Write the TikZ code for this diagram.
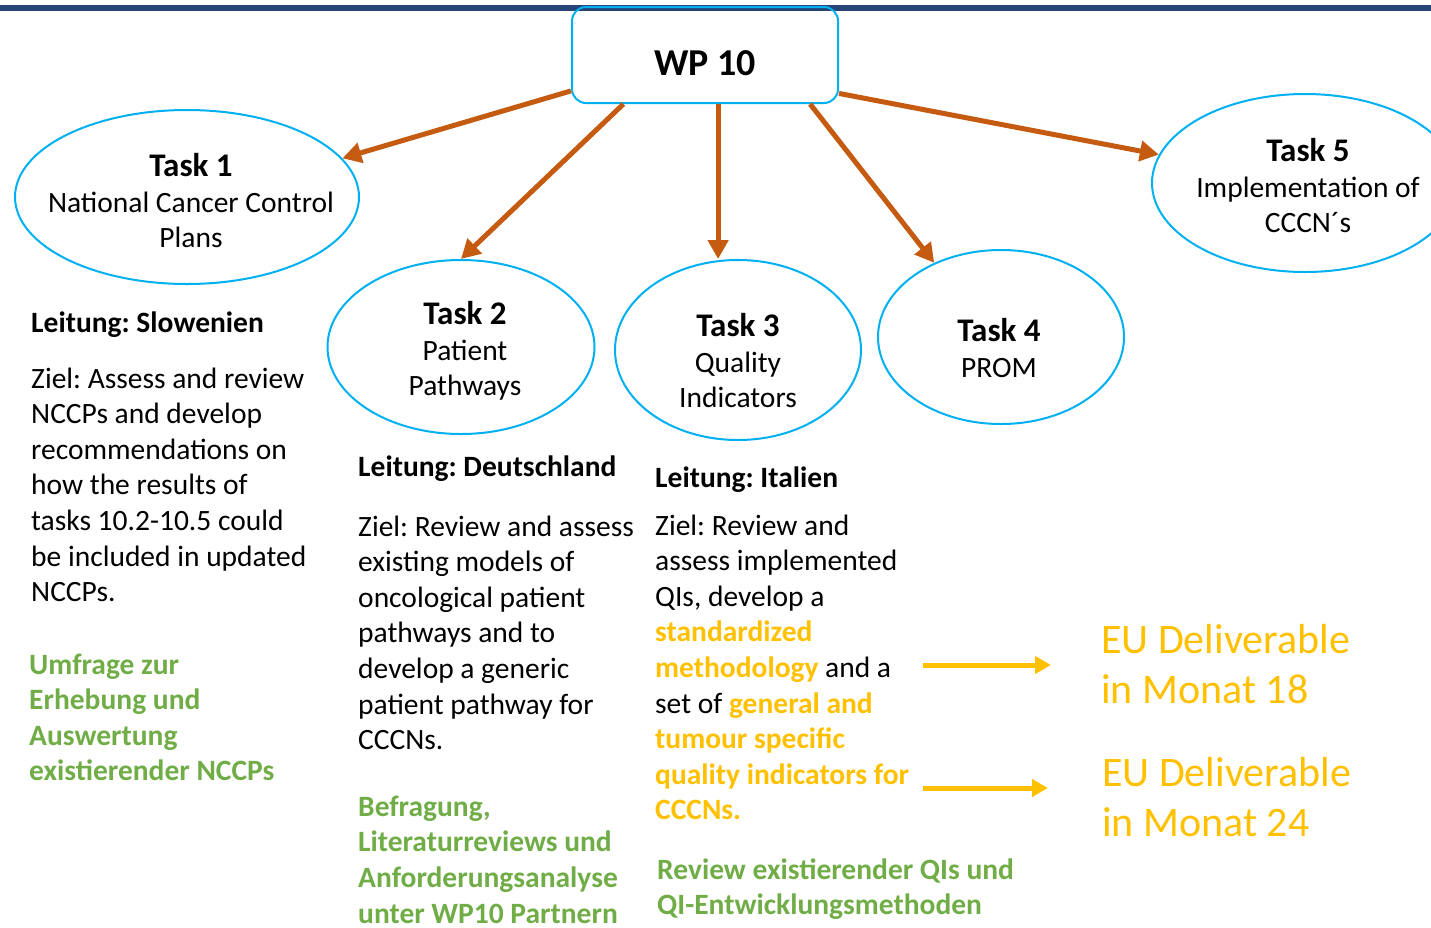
\documentclass[tikz,border=0pt]{standalone}
\usepackage{fontspec}
\setmainfont{Carlito}
\usetikzlibrary{shapes.geometric,arrows.meta,positioning}
\definecolor{wpcyan}{RGB}{0,176,240}
\definecolor{wporange}{RGB}{197,90,17}
\definecolor{wpyellow}{RGB}{255,192,0}
\definecolor{wpgreen}{RGB}{112,173,71}
\definecolor{wpnavy}{RGB}{38,68,120}
\newcommand{\tasktitle}[1]{{\fontsize{33}{38}\selectfont\bfseries #1}}
\newcommand{\hl}[1]{\textcolor{wpyellow}{\bfseries #1}}
\frenchspacing

\begin{document}
\begin{tikzpicture}[x=1pt,y=-1pt,
    wpbox/.style={draw=wpcyan,line width=2pt,rounded corners=14pt,minimum width=266pt,
      minimum height=96pt,text height=40pt,text depth=0pt,font=\fontsize{38}{44}\selectfont\bfseries},
    task/.style={ellipse,draw=wpcyan,line width=2pt,inner sep=0pt},
    tasklab/.style={inner sep=0pt,align=center,font=\fontsize{29.5}{35.5}\selectfont},
    txt/.style={anchor=base west,inner sep=0pt,align=left,font=\fontsize{29.5}{35.6}\selectfont},
    note/.style={txt,text=wpgreen,font=\fontsize{29.5}{35.6}\selectfont\bfseries},
    deliv/.style={anchor=base west,inner sep=0pt,align=left,text=wpyellow,
      font=\fontsize{42}{50.5}\selectfont},
    arr/.style={draw=wporange,line width=5pt,-{Triangle[length=19pt,width=20pt]}},
    yarr/.style={draw=wpyellow,line width=5pt,-{Triangle[length=16pt,width=17pt]}}]
    \useasboundingbox (0,0) rectangle (1431,927);
    \fill[wpnavy] (0,5) rectangle (1431,11);

    % work package and tasks
    \node[wpbox] (wp) at (705,55) {WP 10};
    \node[task,minimum width=344pt,minimum height=174pt] (t1) at (187,197) {};
    \node[task,minimum width=267pt,minimum height=174pt] (t2) at (461,347) {};
    \node[task,minimum width=246pt,minimum height=180pt] (t3) at (738,350) {};
    \node[task,minimum width=246pt,minimum height=174pt] (t4) at (1001,337) {};
    \node[task,minimum width=306pt,minimum height=178pt] (t5) at (1305,183) {};
    \node[tasklab] (t1lab) at (191,201) {\tasktitle{Task 1}\\National Cancer Control\\Plans};
    \node[tasklab] (t2lab) at (465,351) {\tasktitle{Task 2}\\Patient\\Pathways};
    \node[tasklab] (t3lab) at (738,361) {\tasktitle{Task 3}\\Quality\\Indicators};
    \node[tasklab] (t4lab) at (999,348) {\tasktitle{Task 4}\\PROM};
    \node[tasklab] (t5lab) at (1308,186) {\tasktitle{Task 5}\\Implementation of\\CCCN´s};

    \draw[arr] (wp.195) -- (t1.14);
    \draw[arr] (wp.211) -- (t2.north);
    \draw[arr] (wp.285) -- (wp.285 |- t3.north);
    \draw[arr] (wp.335) -- (t4.132);
    \draw[arr] (wp.344) -- (t5.169);

    % Task 1
    \node[txt] (lead1) at (31,332) {\bfseries Leitung: Slowenien};
    \node[txt] (aim1) at (31,601.6) {Ziel: Assess and review\\NCCPs and develop\\recommendations on\\
      how the results of\\tasks 10.2-10.5 could\\be included in updated\\NCCPs.};
    \node[note] (work1) at (29,780.8) {Umfrage zur\\Erhebung und\\Auswertung\\existierender NCCPs};

    % Task 2
    \node[txt] (lead2) at (358,476) {\bfseries Leitung: Deutschland};
    \node[txt] (aim2) at (358,749.6) {Ziel: Review and assess\\existing models of\\oncological patient\\
      pathways and to\\develop a generic\\patient pathway for\\CCCNs.};
    \node[note] (work2) at (358,923) {Befragung,\\Literaturreviews und\\Anforderungsanalyse\\unter WP10 Partnern};

    % Task 3
    \node[txt] (lead3) at (655,487) {\bfseries Leitung: Italien};
    \node[txt] (aim3) at (655,819.8) {Ziel: Review and\\assess implemented\\QIs, develop a\\
      \hl{standardized}\\\hl{methodology} and a\\set of \hl{general and}\\\hl{tumour specific}\\
      \hl{quality indicators for}\\\hl{CCCNs.}};
    \node[note] (work3) at (657,914.6) {Review existierender QIs und\\QI-Entwicklungsmethoden};

    % deliverables
    \node[deliv] (eu1) at (1101,703.5) {EU Deliverable\\in Monat 18};
    \node[deliv] (eu2) at (1102,836.5) {EU Deliverable\\in Monat 24};
    \coordinate (d1) at (923,665);
    \coordinate (d2) at (923,788);
    \draw[yarr] (d1) -- ([xshift=-50pt]eu1.west |- d1);
    \draw[yarr] (d2) -- ([xshift=-54pt]eu2.west |- d2);
\end{tikzpicture}
\end{document}
